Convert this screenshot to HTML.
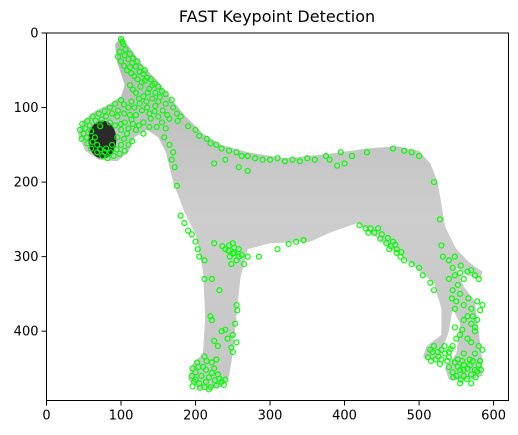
<!DOCTYPE html>
<html><head><meta charset="utf-8"><style>
html,body{margin:0;padding:0;background:#fff;}
svg{display:block;font-family:"DejaVu Sans","Liberation Sans",sans-serif;}
</style></head><body>
<svg id="chart" width="518" height="435" viewBox="0 0 518 435" xmlns="http://www.w3.org/2000/svg">
<text x="277" y="22" text-anchor="middle" font-size="16" fill="#000">FAST Keypoint Detection</text>
<defs><clipPath id="clip"><rect x="46.5" y="33" width="462" height="367.5"/></clipPath>
<linearGradient id="fur" x1="0" y1="0" x2="0" y2="1"><stop offset="0" stop-color="#b8b8b8"/><stop offset="0.5" stop-color="#cdcdcd"/><stop offset="1" stop-color="#c6c6c6"/></linearGradient></defs>
<g id="plot" clip-path="url(#clip)"></g>
<rect x="46.5" y="33" width="462" height="367.5" fill="none" stroke="#000" stroke-width="1"/>
<g id="ticks"></g>
</svg>
<script>
const xTicks = [0,100,200,300,400,500,600];
const yTicks = [0,100,200,300,400];
const imgW = 620, imgH = 493;
const dogOutline = [[100,5],[112,20],[130,45],[150,65],[165,85],[185,110],[210,135],[235,150],[270,160],[320,168],[380,162],[430,155],[470,152],[500,158],[515,175],[525,200],[530,230],[535,260],[550,290],[570,310],[585,320],[583,330],[565,325],[550,315],[560,340],[575,360],[580,400],[585,440],[585,460],[570,465],[540,465],[535,450],[550,430],[555,390],[545,370],[540,400],[530,430],[520,440],[505,435],[510,420],[530,405],[530,370],[520,336],[490,310],[450,280],[417,255],[380,268],[354,280],[300,282],[270,290],[260,330],[255,380],[250,430],[245,460],[235,475],[205,478],[190,465],[195,445],[210,430],[213,380],[210,320],[200,270],[185,240],[170,200],[160,160],[150,140],[135,130],[118,140],[110,160],[95,172],[70,170],[52,158],[42,135],[48,118],[65,105],[85,95],[100,85],[105,70],[95,40],[92,15]];
const keypoints = [[100,8],[103,15],[98,25],[105,30],[110,35],[100,38],[115,40],[120,45],[108,50],[125,52],[130,55],[118,58],[135,60],[140,62],[128,66],[145,68],[150,72],[138,75],[155,78],[160,82],[112,70],[120,80],[130,85],[142,88],[150,92],[125,95],[135,100],[145,105],[150,112],[140,115],[155,120],[130,120],[120,110],[110,100],[100,90],[92,95],[85,100],[78,105],[70,108],[62,112],[55,118],[48,122],[45,130],[50,135],[47,142],[55,148],[60,155],[68,160],[75,165],[82,168],[90,165],[98,162],[105,158],[110,150],[115,145],[108,135],[100,130],[95,140],[88,150],[80,155],[72,125],[65,140],[85,120],[95,112],[105,120],[120,130],[130,135],[160,95],[170,100],[175,108],[180,112],[165,115],[158,140],[165,150],[170,160],[168,170],[172,180],[175,205],
[190,125],[200,130],[205,138],[215,142],[220,148],[228,150],[235,155],[245,158],[255,160],[262,165],[270,165],[280,168],[290,170],[300,170],[310,168],[320,172],[330,170],[340,172],[350,168],[360,170],[375,165],[380,170],[395,160],[410,165],[430,160],[465,155],[480,158],[490,160],[500,165],[225,175],[240,170],[258,180],[270,185],[390,178],[400,175],
[520,200],[528,250],[530,285],[532,300],[540,305],[545,315],[548,325],[555,322],[565,320],[575,325],[580,330],[540,330],[545,345],[550,360],[548,370],[555,350],[560,365],[565,380],[570,390],[575,400],
[420,258],[428,262],[435,262],[445,262],[450,270],[458,275],[465,280],[470,290],[475,300],[480,305],[490,310],[500,315],[505,325],[515,335],[520,345],[460,290],[470,295],[345,278],[335,280],[325,283],[310,290],
[180,245],[185,255],[190,265],[195,270],[200,280],[203,290],[205,300],[212,305],[212,330],[222,330],[240,290],[245,285],[250,282],[252,295],[258,290],[262,298],[255,305],[248,310],[265,310],[270,300],[225,282],[285,300],[232,345],
[220,380],[222,385],[255,365],[256,372],[253,390],[250,405],[255,415],[235,400],[240,398],[243,410],[225,413],[230,420],[248,422],[250,428],[215,440],[222,442],[228,438],[225,450],[210,448],[200,455],[195,460],[198,468],[205,470],[212,475],[220,475],[228,473],[235,468],[240,465],[208,460],[218,462],[230,458],[200,465],
[515,425],[520,420],[525,428],[530,425],[535,430],[540,428],[545,420],[530,438],[522,438],[540,435],[512,435],[550,410],[555,405],[565,410],[570,415],[558,398],[548,395],[560,385],[572,380],[575,395],[582,372],[585,365],[578,360],[560,445],[555,452],[545,455],[550,460],[560,460],[570,458],[575,452],[580,445],[582,440],[565,450],[540,448],[548,442],[558,440],[568,438],[575,430],[580,420],[585,425],[560,430],[555,470],[570,470]];
const extraKeypoints = [[102,12],[106,22],[112,28],[96,32],[116,34],[122,38],[104,44],[112,46],[126,46],[132,50],[114,54],[122,62],[132,64],[142,70],[126,72],[116,76],[136,80],[146,80],[152,86],[124,88],[134,92],[114,92],[104,96],[118,100],[128,104],[138,108],[146,98],[156,104],[162,110],[148,126],[138,126],[124,124],[114,116],[104,108],[96,104],[88,108],[80,112],[74,116],[66,118],[58,124],[52,128],[54,140],[60,132],[62,146],[68,150],[72,156],[78,160],[86,160],[94,156],[100,150],[104,142],[100,122],[92,124],[110,128],[116,122],[112,110],[168,90],[176,118],[160,128],
[196,450],[204,448],[214,452],[222,456],[232,464],[214,468],[206,476],[226,466],[238,472],[202,442],[212,434],[196,474],[218,478],
[518,428],[526,434],[534,420],[542,424],[516,440],[528,444],[538,440],
[552,448],[560,452],[568,446],[578,454],[546,462],[564,464],[576,462],[552,438],[572,440],[583,452],[556,465],
[548,300],[556,312],[570,318],[560,330],[552,338],[544,356],[566,356],[570,370],[578,385],
[236,286],[244,292],[252,288],[246,300],[258,300],[250,296],
[432,268],[440,268],[448,276],[456,282],[462,286],[468,284],[476,294]];

const NS = "http://www.w3.org/2000/svg";
const x0 = 46.5, y0 = 33, W = 462, H = 367.5;
const sx = v => x0 + v * W / imgW;
const sy = v => y0 + v * H / imgH;
const plot = document.getElementById('plot');
const ticks = document.getElementById('ticks');

const dog = document.createElementNS(NS, 'polygon');


dog.setAttribute('points', dogOutline.map(p => sx(p[0]) + ',' + sy(p[1])).join(' '));
dog.setAttribute('fill', 'url(#fur)');
plot.appendChild(dog);

const nose = document.createElementNS(NS, 'ellipse');


nose.setAttribute('cx', sx(75)); nose.setAttribute('cy', sy(143));
nose.setAttribute('rx', 14); nose.setAttribute('ry', 19);
nose.setAttribute('fill', '#2a2a2a');
plot.appendChild(nose);

keypoints.concat(extraKeypoints).forEach(p => {
  const c = document.createElementNS(NS, 'circle');
  
  
  c.setAttribute('cx', sx(p[0])); c.setAttribute('cy', sy(p[1]));
  c.setAttribute('r', 2.5);
  c.setAttribute('fill', 'none'); c.setAttribute('stroke', '#00ff00'); c.setAttribute('stroke-width', 1.2);
  plot.appendChild(c);
});

xTicks.forEach(t => {
  const l = document.createElementNS(NS, 'line');
  
  
  l.setAttribute('x1', sx(t)); l.setAttribute('x2', sx(t));
  l.setAttribute('y1', y0 + H); l.setAttribute('y2', y0 + H + 5);
  l.setAttribute('stroke', '#000');
  ticks.appendChild(l);
  const tx = document.createElementNS(NS, 'text');
  
  
  tx.setAttribute('x', sx(t)); tx.setAttribute('y', y0 + H + 19);
  tx.setAttribute('text-anchor', 'middle'); tx.setAttribute('font-size', '13');
  tx.textContent = t;
  ticks.appendChild(tx);
});
yTicks.forEach(t => {
  const l = document.createElementNS(NS, 'line');
  
  
  l.setAttribute('x1', x0 - 5); l.setAttribute('x2', x0);
  l.setAttribute('y1', sy(t)); l.setAttribute('y2', sy(t));
  l.setAttribute('stroke', '#000');
  ticks.appendChild(l);
  const tx = document.createElementNS(NS, 'text');
  
  
  tx.setAttribute('x', x0 - 8); tx.setAttribute('y', sy(t) + 4.5);
  tx.setAttribute('text-anchor', 'end'); tx.setAttribute('font-size', '13');
  tx.textContent = t;
  ticks.appendChild(tx);
});
</script>
</body></html>
